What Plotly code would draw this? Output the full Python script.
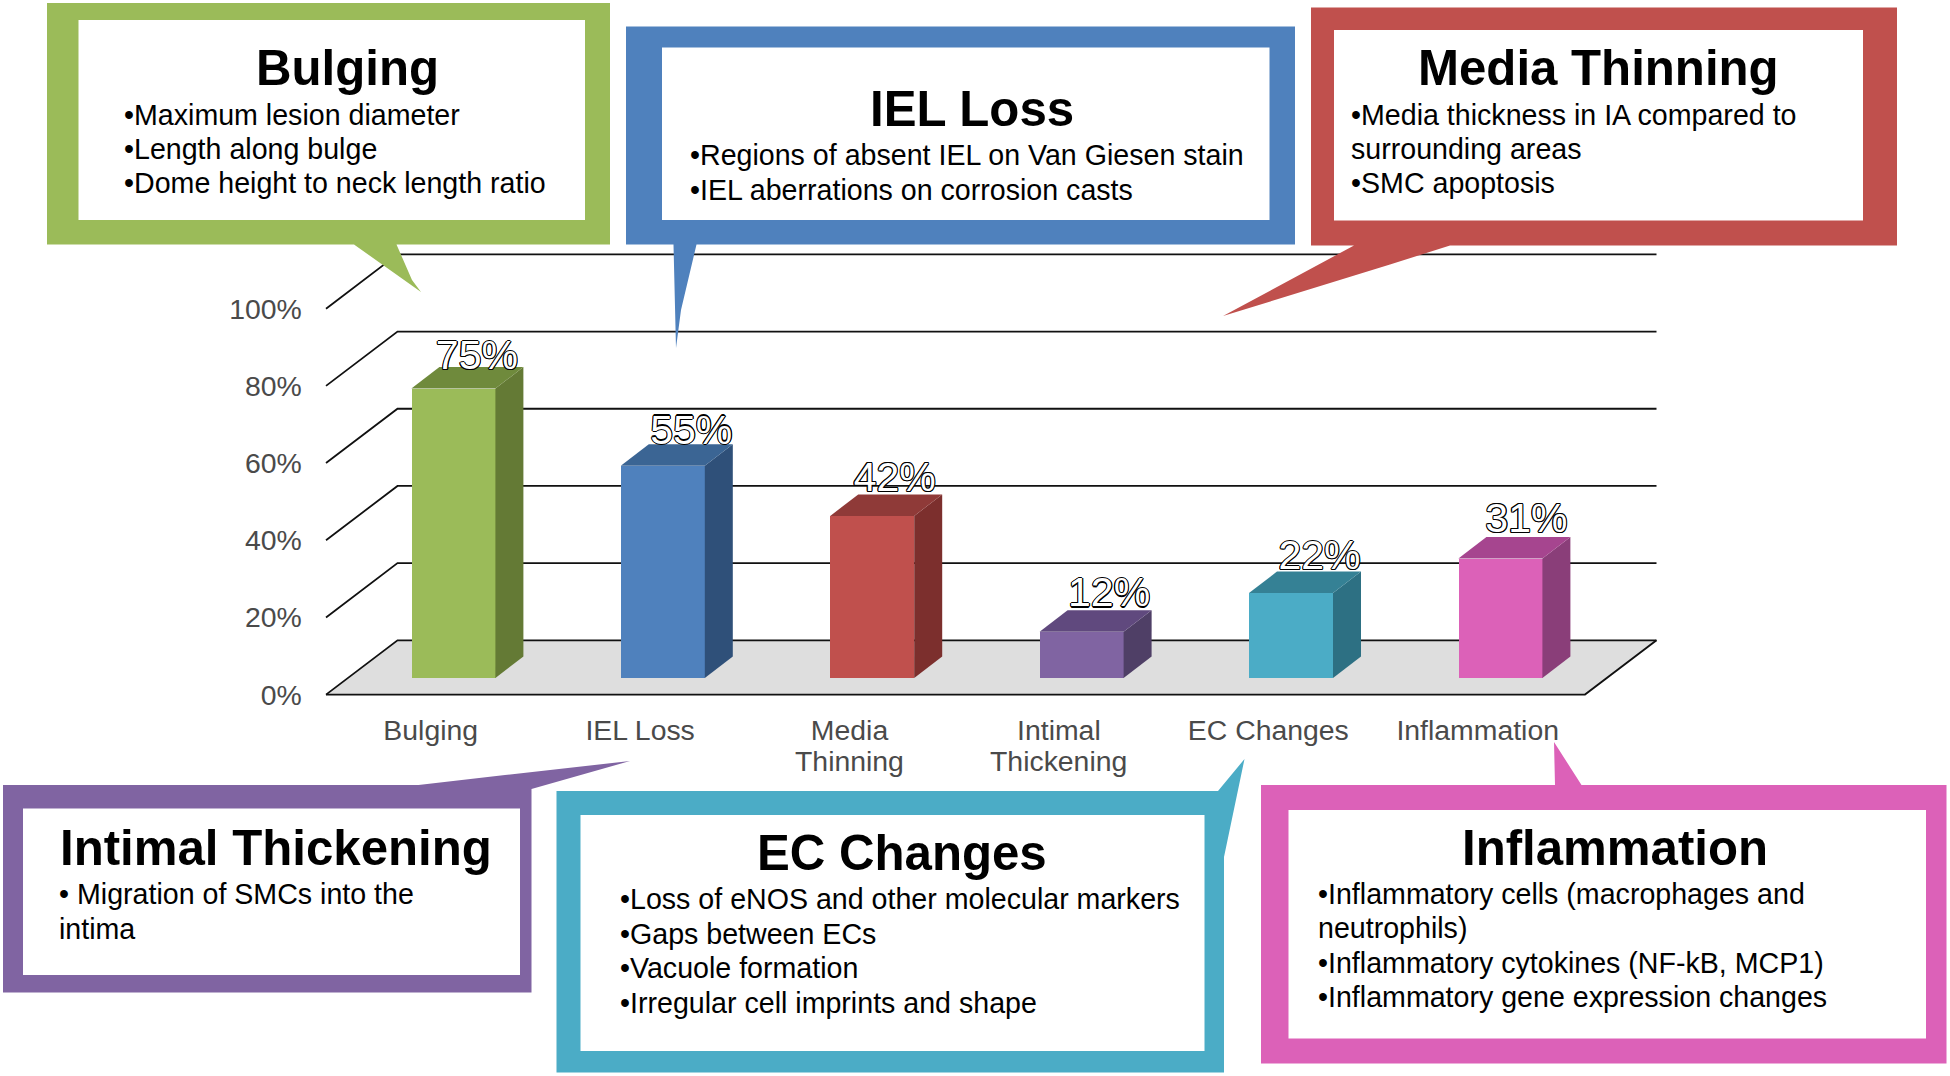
import plotly.graph_objects as go

# ---------- data ----------
categories = ["Bulging", "IEL Loss", "Media Thinning", "Intimal Thickening", "EC Changes", "Inflammation"]
tick_labels = ["Bulging", "IEL Loss", "Media", "Intimal", "EC Changes", "Inflammation"]
tick_labels_row2 = ["", "", "Thinning", "Thickening", "", ""]
values = [75, 55, 42, 12, 22, 31]
y_ticks = [0, 20, 40, 60, 80, 100]
y_tick_labels = ["0%", "20%", "40%", "60%", "80%", "100%"]

front_colors = ["#9BBB59", "#4F81BD", "#C0504D", "#8064A2", "#4BACC6", "#DC61B8"]
side_colors = ["#647A35", "#2F5079", "#7C2F2D", "#4F3F66", "#2D7083", "#8A3E79"]
top_colors = ["#6F8A3C", "#3B6594", "#8F3A38", "#60497E", "#358195", "#A6458F"]

titles = ["Bulging", "IEL Loss", "Media Thinning", "Intimal Thickening", "EC Changes", "Inflammation"]
bullets = [
    ["•Maximum lesion diameter", "•Length along bulge", "•Dome height to neck length ratio"],
    ["•Regions of absent IEL on Van Giesen stain", "•IEL aberrations on corrosion casts"],
    ["•Media thickness in IA compared to", "surrounding areas", "•SMC apoptosis"],
    ["• Migration of SMCs into the", "intima"],
    ["•Loss of eNOS and other molecular markers", "•Gaps between ECs", "•Vacuole formation",
     "•Irregular cell imprints and shape"],
    ["•Inflammatory cells (macrophages and", "neutrophils)", "•Inflammatory cytokines (NF-kB, MCP1)",
     "•Inflammatory gene expression changes"],
]

# ---------- page and axis geometry (pixels) ----------
W, H = 1950, 1076
PX_X, PX_Y = 209.4, 3.859          # pixels per category, pixels per percent
X0_PX, Y0_PX = 326.0, 694.6        # pixel of category edge 0 and of 0 %
X_RANGE = [-0.02, 6.37]
Y_RANGE = [-1, 115]
X_END = 1585 / PX_X - X0_PX / PX_X  # right front corner of the floor
WALL_DX, WALL_DY = 71.5 / PX_X, 54.3 / PX_Y
BAR_W = 84 / PX_X
BAR_SHIFT_X, BAR_BASE = 22.7 / PX_X, 16.6 / PX_Y
BAR_DX, BAR_DY = 28 / PX_X, 21.5 / PX_Y
LABEL_NUDGE_X = [0, 5, -1, 4, 5, 2.5]      # px
LABEL_NUDGE_Y = [12.5, 9.5, 7, 6.5, 8, 5.5]  # px, downwards


def px(x):
    return x / W


def py(y):
    return 1 - y / H


fig = go.Figure()
centers = [i + 0.5 + BAR_SHIFT_X for i in range(len(values))]

# front faces
fig.add_trace(go.Bar(
    x=centers, y=values, base=BAR_BASE, width=BAR_W,
    marker=dict(color=front_colors, line=dict(width=0)),
    hoverinfo="skip", showlegend=False))

# side and top faces
for c, v, sc, tc in zip(centers, values, side_colors, top_colors):
    l, r, b, t = c - BAR_W / 2, c + BAR_W / 2, BAR_BASE, BAR_BASE + v
    fig.add_trace(go.Scatter(
        x=[r, r + BAR_DX, r + BAR_DX, r, r], y=[b, b + BAR_DY, t + BAR_DY, t, b],
        mode="lines", fill="toself", fillcolor=sc, line=dict(width=0),
        hoverinfo="skip", showlegend=False))
    fig.add_trace(go.Scatter(
        x=[l, r, r + BAR_DX, l + BAR_DX, l], y=[t, t, t + BAR_DY, t + BAR_DY, t],
        mode="lines", fill="toself", fillcolor=tc, line=dict(width=0),
        hoverinfo="skip", showlegend=False))

# outlined value labels
OUTLINE = ",".join(f"{a}px {b}px 0 #000" for a, b in
                   [(-0.8, -0.8), (0.8, -0.8), (-0.8, 0.8), (0.8, 0.8),
                    (0, -1.1), (0, 1.1), (-1.1, 0), (1.1, 0)])
fig.add_trace(go.Scatter(
    x=[c + (23.5 + nx) / PX_X for c, nx in zip(centers, LABEL_NUDGE_X)],
    y=[BAR_BASE + v + BAR_DY - ny / PX_Y for v, ny in zip(values, LABEL_NUDGE_Y)],
    mode="text", text=[f"{v}%" for v in values], textposition="top center",
    textfont=dict(family="Liberation Sans", size=41, color="white", shadow=OUTLINE),
    hoverinfo="skip", showlegend=False, cliponaxis=False))

shapes = []
# floor
shapes.append(dict(
    type="path", xref="x", yref="y", layer="below", fillcolor="#DEDEDE", line=dict(width=0),
    path=f"M 0 0 L {WALL_DX} {WALL_DY} L {X_END + WALL_DX} {WALL_DY} L {X_END} 0 Z"))
# walls / gridlines
for v in y_ticks:
    shapes.append(dict(
        type="path", xref="x", yref="y", layer="below", line=dict(color="#111111", width=1.8),
        path=f"M 0 {v} L {WALL_DX} {v + WALL_DY} L {X_END + WALL_DX} {v + WALL_DY}"))
shapes.append(dict(
    type="path", xref="x", yref="y", layer="below", line=dict(color="#111111", width=1.9),
    path=f"M 0 0 L {X_END} 0 L {X_END + WALL_DX} {WALL_DY}"))

# callouts (pixel geometry, same order as titles)
outer_polys = [
    [(47, 3), (610, 3), (610, 244.5), (396.5, 244.5), (412, 280), (421, 292), (354, 244.5), (47, 244.5)],
    [(626, 26.5), (1295, 26.5), (1295, 244.5), (696.5, 244.5), (681, 310), (676, 348), (673.5, 244.5), (626, 244.5)],
    [(1311, 7.5), (1897, 7.5), (1897, 245.5), (1450, 245.5), (1390, 264.5), (1223, 316), (1354, 245.5), (1311, 245.5)],
    [(3, 785), (418.5, 785), (505, 775), (630, 761), (531.5, 789), (531.5, 992.5), (3, 992.5)],
    [(556.5, 791), (1218, 791), (1244.5, 759), (1224, 857), (1224, 1072.5), (556.5, 1072.5)],
    [(1261, 785), (1555, 785), (1554, 742), (1581.5, 785), (1946.5, 785), (1946.5, 1063.5), (1261, 1063.5)],
]
inner_boxes = [
    (78.5, 20, 585, 220),
    (662, 47.5, 1269.5, 220),
    (1334, 30, 1863, 220.5),
    (23, 808.5, 520, 975),
    (580.5, 815, 1204.5, 1051),
    (1288.5, 810, 1926, 1038.5),
]
title_pos = [(347, 85), (972, 125.5), (1598.5, 85), (275.5, 865), (901.5, 870), (1614.5, 865)]
body_left = [122, 687.5, 1348.5, 57, 617.5, 1315.5]
body_baselines = [
    [124.7, 159, 193.2],
    [164.7, 199.7],
    [124.7, 158.7, 193.2],
    [904.2, 939.2],
    [909.2, 944.2, 978.2, 1013.2],
    [904.2, 938.2, 973.2, 1007.2],
]
TITLE_SIZE, BODY_SIZE, TICK_SIZE = 49.2, 28.6, 28.4
MID = 0.3465  # baseline to text-box middle, in em
ROW2_BASELINE = 771

annotations = []
for i, col in enumerate(front_colors):
    poly = outer_polys[i]
    path = "M " + " L ".join(f"{px(x)} {py(y)}" for x, y in poly) + " Z"
    shapes.append(dict(type="path", xref="paper", yref="paper", layer="above",
                       fillcolor=col, line=dict(width=0), path=path))
    x0, y0, x1, y1 = inner_boxes[i]
    shapes.append(dict(type="rect", xref="paper", yref="paper", layer="above",
                       x0=px(x0), x1=px(x1), y0=py(y0), y1=py(y1),
                       fillcolor="white", line=dict(width=0)))
    tx, ty = title_pos[i]
    annotations.append(dict(
        xref="paper", yref="paper", x=px(tx), y=py(ty - MID * TITLE_SIZE),
        xanchor="center", yanchor="middle", showarrow=False, text=f"<b>{titles[i]}</b>",
        font=dict(family="Liberation Sans", size=TITLE_SIZE, color="black")))
    for line, base in zip(bullets[i], body_baselines[i]):
        annotations.append(dict(
            xref="paper", yref="paper", x=px(body_left[i]), y=py(base - MID * BODY_SIZE),
            xanchor="left", yanchor="middle", showarrow=False, text=line,
            font=dict(family="Liberation Sans", size=BODY_SIZE, color="black")))

# second row of the wrapped category labels
for i, row2 in enumerate(tick_labels_row2):
    if row2:
        annotations.append(dict(
            xref="x", yref="paper", x=i + 0.5, y=py(ROW2_BASELINE - MID * TICK_SIZE),
            xanchor="center", yanchor="middle", showarrow=False, text=row2,
            font=dict(family="Liberation Sans", size=TICK_SIZE, color="#4A4A4A")))

left_px = X0_PX + X_RANGE[0] * PX_X
right_px = X0_PX + X_RANGE[1] * PX_X
bottom_px = Y0_PX - Y_RANGE[0] * PX_Y
top_px = Y0_PX - Y_RANGE[1] * PX_Y

fig.update_layout(
    width=W, height=H, autosize=False,
    margin=dict(l=0, r=0, t=0, b=0, pad=0),
    paper_bgcolor="white", plot_bgcolor="rgba(0,0,0,0)",
    showlegend=False, shapes=shapes, annotations=annotations,
    font=dict(family="Liberation Sans"),
    bargap=0,
    xaxis=dict(
        domain=[px(left_px), px(right_px)], range=X_RANGE, showgrid=False, zeroline=False,
        showline=False, ticks="", tickmode="array",
        tickvals=[i + 0.5 for i in range(len(tick_labels))], ticktext=tick_labels,
        tickfont=dict(family="Liberation Sans", size=TICK_SIZE, color="#4A4A4A"),
        ticklabelstandoff=12, automargin=False),
    yaxis=dict(
        domain=[py(bottom_px), py(top_px)], range=Y_RANGE, showgrid=False, zeroline=False,
        showline=False, ticks="", tickmode="array", tickvals=y_ticks, ticktext=y_tick_labels,
        tickfont=dict(family="Liberation Sans", size=TICK_SIZE, color="#4A4A4A"),
        ticklabelstandoff=19, automargin=False),
)

fig.write_html("out.html", config={"displayModeBar": False},
               post_script="document.body.style.margin='0';document.body.style.overflow='hidden';")
